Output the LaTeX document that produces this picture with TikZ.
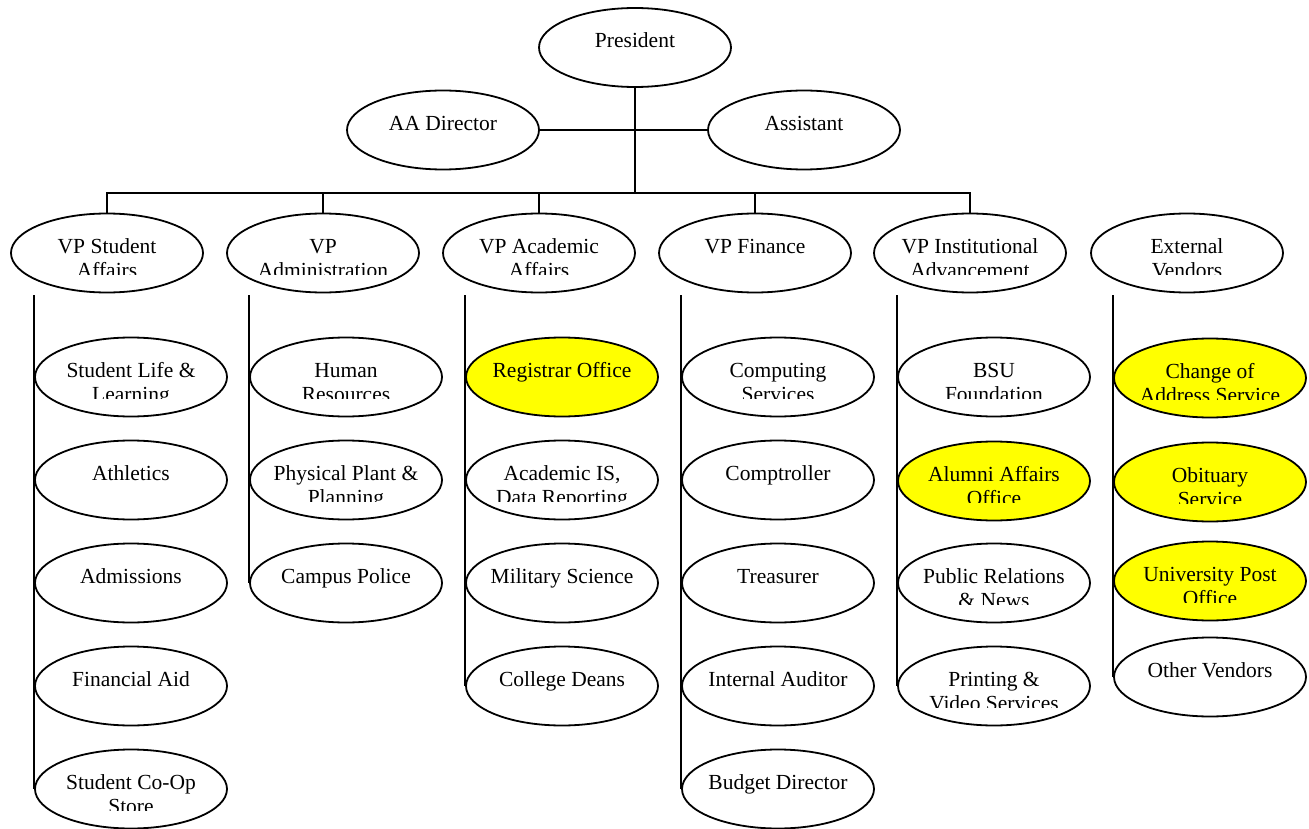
\documentclass[tikz,border=0pt]{standalone}
\usepackage{fontspec}
\setmainfont{Liberation Serif}
\usetikzlibrary{shapes.geometric}

\definecolor{hilite}{RGB}{255,255,0}

\tikzset{
  unit/.style={ellipse, draw=black, line width=1.8pt, inner sep=0pt,
               minimum width=192pt, minimum height=79pt},
  caption/.style={anchor=base, inner sep=0pt,
                  font=\fontsize{21.5}{24}\selectfont},
  link/.style={draw=black, line width=1.8pt},
}

% an org-chart unit: name, x, y, fill, first line, second line
% the caption is cut off at the lower edge of its text frame
\newcommand\orgunit[6]{%
  \node[unit, fill=#4] (#1) at (#2,#3) {};
  \begin{scope}
    \clip (#2-96,#3-24) rectangle (#2+96,#3+21.5);
    \node[caption] (#1-a) at (#2,#3+0.5) {#5};
    \node[caption] (#1-b) at (#2,#3+24.5) {#6};
  \end{scope}}

\begin{document}
\begin{tikzpicture}[x=1pt, y=-1pt]
  \useasboundingbox (0,0) rectangle (1309,829);

  % top level
  \orgunit{pres}{635}{47.5}{white}{President}{}
  \orgunit{aadir}{443}{130}{white}{AA Director}{}
  \orgunit{asst}{804}{130}{white}{Assistant}{}

  % vice presidents
  \orgunit{vpsa}{107}{253}{white}{VP Student}{Affairs}
  \orgunit{vpadm}{323}{253}{white}{VP}{Administration}
  \orgunit{vpaa}{539}{253}{white}{VP Academic}{Affairs}
  \orgunit{vpfin}{755}{253}{white}{VP Finance}{}
  \orgunit{vpia}{970}{253}{white}{VP Institutional}{Advancement}
  \orgunit{extv}{1187}{253}{white}{External}{Vendors}

  % student affairs
  \orgunit{sll}{131}{377}{white}{Student Life \&}{Learning}
  \orgunit{ath}{131}{480}{white}{Athletics}{}
  \orgunit{adm}{131}{583}{white}{Admissions}{}
  \orgunit{fa}{131}{686}{white}{Financial Aid}{}
  \orgunit{coop}{131}{789}{white}{Student Co-Op}{Store}

  % administration
  \orgunit{hr}{346}{377}{white}{Human}{Resources}
  \orgunit{ppp}{346}{480}{white}{Physical Plant \&}{Planning}
  \orgunit{cp}{346}{583}{white}{Campus Police}{}

  % academic affairs
  \orgunit{reg}{562}{377}{hilite}{Registrar Office}{}
  \orgunit{ais}{562}{480}{white}{Academic IS,}{Data Reporting}
  \orgunit{ms}{562}{583}{white}{Military Science}{}
  \orgunit{cd}{562}{686}{white}{College Deans}{}

  % finance
  \orgunit{cs}{778}{377}{white}{Computing}{Services}
  \orgunit{comp}{778}{480}{white}{Comptroller}{}
  \orgunit{tre}{778}{583}{white}{Treasurer}{}
  \orgunit{ia}{778}{686}{white}{Internal Auditor}{}
  \orgunit{bd}{778}{789}{white}{Budget Director}{}

  % institutional advancement
  \orgunit{bsu}{994}{377}{white}{BSU}{Foundation}
  \orgunit{aao}{994}{481}{hilite}{Alumni Affairs}{Office}
  \orgunit{pr}{994}{583}{white}{Public Relations}{\& News}
  \orgunit{pvs}{994}{686}{white}{Printing \&}{Video Services}

  % external vendors
  \orgunit{coa}{1210}{378}{hilite}{Change of}{Address Service}
  \orgunit{obit}{1210}{482}{hilite}{Obituary}{Service}
  \orgunit{upo}{1210}{581}{hilite}{University Post}{Office}
  \orgunit{ov}{1210}{677}{white}{Other Vendors}{}

  % connectors
  \coordinate (bus) at (635,193);
  \draw[link] (aadir.east) -- (asst.west);
  \draw[link] (pres.south) -- (bus);
  \draw[link] (vpsa.north) |- (bus);
  \draw[link] (vpia.north) |- (bus);
  \draw[link] (vpadm.north) -- (vpadm.north |- bus);
  \draw[link] (vpaa.north) -- (vpaa.north |- bus);
  \draw[link] (vpfin.north) -- (vpfin.north |- bus);

  % column spines
  \draw[link] ([yshift=-2pt]vpsa.south -| sll.west) -- (coop.west);
  \draw[link] ([yshift=-2pt]vpadm.south -| hr.west) -- (cp.west);
  \draw[link] ([yshift=-2pt]vpaa.south -| reg.west) -- (cd.west);
  \draw[link] ([yshift=-2pt]vpfin.south -| cs.west) -- (bd.west);
  \draw[link] ([yshift=-2pt]vpia.south -| bsu.west) -- (pvs.west);
  \draw[link] ([yshift=-2pt]extv.south -| coa.west) -- (ov.west);
\end{tikzpicture}
\end{document}
